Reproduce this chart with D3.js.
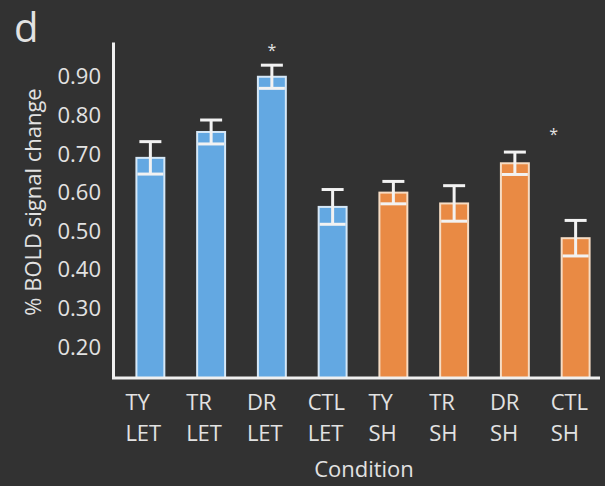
<!DOCTYPE html>
<html>
<head>
<meta charset="utf-8">
<script src="https://cdn.jsdelivr.net/npm/d3@7"></script>
<style>
  html, body { margin: 0; padding: 0; background: #323232; }
  svg { display: block; }
  text { font-family: "Open Sans", "DejaVu Sans", sans-serif; fill: #e2e2e2; }
</style>
</head>
<body>
<svg id="chart" width="605" height="486"></svg>
<script>
// ---- data ----
const categories = ["TY LET", "TR LET", "DR LET", "CTL LET", "TY SH", "TR SH", "DR SH", "CTL SH"];
const groups     = ["LET", "LET", "LET", "LET", "SH", "SH", "SH", "SH"];
const means      = [0.690, 0.757, 0.900, 0.563, 0.600, 0.572, 0.676, 0.482];
const errors     = [0.042, 0.031, 0.030, 0.045, 0.029, 0.046, 0.029, 0.046];
const yTicks     = [0.20, 0.30, 0.40, 0.50, 0.60, 0.70, 0.80, 0.90];
const starCats   = ["DR LET", "CTL SH"];
const starValues = [0.965, 0.748];

// ---- styles ----
const fillColor   = { LET: "#63a8e2", SH: "#e98a44" };
const strokeColor = { LET: "#d6e8f7", SH: "#f6dcc4" };

const svg = d3.select("#chart");
const W = 605, H = 486;
svg.append("rect").attr("width", W).attr("height", H).attr("fill", "#323232");

const x = d3.scaleBand()
  .domain(categories)
  .range([120, 606])
  .paddingInner(0.54)
  .paddingOuter(0.27);

const y = d3.scaleLinear()
  .domain([0.12, 0.99])
  .range([378, 42]);

// bars
const data = categories.map((c, i) => ({ c, g: groups[i], m: means[i], e: errors[i] }));

svg.append("g").selectAll("rect")
  .data(data).join("rect")
  .attr("x", d => x(d.c))
  .attr("width", x.bandwidth())
  .attr("y", d => y(d.m))
  .attr("height", d => y(0.12) - y(d.m))
  .attr("fill", d => fillColor[d.g])
  .attr("stroke", d => strokeColor[d.g])
  .attr("stroke-width", 2);

// error bars (I-beam)
const eb = svg.append("g").attr("stroke", "#f2f2f2").attr("stroke-width", 3).attr("fill", "none");
const capHalf = 11;
data.forEach(d => {
  const cx = x(d.c) + x.bandwidth() / 2;
  eb.append("line").attr("x1", cx).attr("x2", cx).attr("y1", y(d.m + d.e)).attr("y2", y(d.m - d.e));
  eb.append("line").attr("x1", cx - capHalf).attr("x2", cx + capHalf).attr("y1", y(d.m + d.e)).attr("y2", y(d.m + d.e));
  eb.append("line").attr("x1", x(d.c) + 1).attr("x2", x(d.c) + x.bandwidth() - 1).attr("y1", y(d.m - d.e)).attr("y2", y(d.m - d.e));
});

// y axis
const yAxis = d3.axisLeft(y).tickValues(yTicks).tickSize(0).tickPadding(12).tickFormat(d3.format(".2f"));
const gy = svg.append("g").attr("transform", "translate(113,0)").call(yAxis);
gy.select(".domain").attr("stroke", "#f0f0f0").attr("stroke-width", 3);
gy.selectAll(".tick text").attr("font-size", 22).attr("fill", "#e2e2e2")
  .style("font-family", '"Open Sans", sans-serif');

// x axis line
svg.append("line")
  .attr("x1", 112).attr("x2", 600)
  .attr("y1", y(0.12)).attr("y2", y(0.12))
  .attr("stroke", "#f0f0f0").attr("stroke-width", 3);

// x labels (two lines, left aligned slightly before bar)
const xl = svg.append("g");
categories.forEach(c => {
  const parts = c.split(" ");
  const t = xl.append("text")
    .attr("x", x(c) - 11)
    .attr("y", 410)
    .attr("font-size", 22)
    .attr("text-anchor", "start");
  t.append("tspan").attr("x", x(c) - 11).attr("y", 410).text(parts[0]);
  t.append("tspan").attr("x", x(c) - 11).attr("y", 441).text(parts[1]);
});

// asterisks
starCats.forEach((c, i) => {
  const dx = c === "CTL SH" ? -22 : 0;
  svg.append("text")
    .attr("x", x(c) + x.bandwidth() / 2 + dx)
    .attr("y", y(starValues[i]))
    .attr("text-anchor", "middle")
    .attr("dominant-baseline", "middle")
    .attr("font-size", 16)
    .attr("fill", "#bdbdbd")
    .text("*");
});

// axis titles
svg.append("text")
  .attr("x", 364).attr("y", 477)
  .attr("text-anchor", "middle")
  .attr("font-size", 22)
  .text("Condition");

svg.append("text")
  .attr("transform", "translate(41,202) rotate(-90)")
  .attr("text-anchor", "middle")
  .attr("font-size", 22)
  .text("% BOLD signal change");

// panel letter
svg.append("text")
  .attr("x", 14).attr("y", 42)
  .attr("font-size", 40)
  .text("d");
</script>
</body>
</html>
